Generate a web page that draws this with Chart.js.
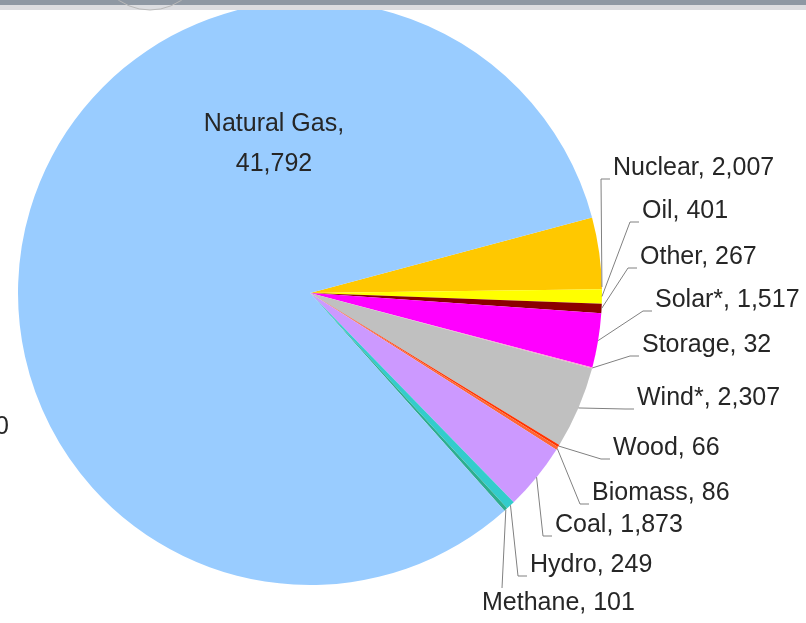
<!DOCTYPE html>
<html>
<head>
<meta charset="utf-8">
<script src="https://cdn.jsdelivr.net/npm/chart.js@4.4.0/dist/chart.umd.min.js"></script>
<style>
  html, body { margin: 0; padding: 0; background: #fff; overflow: hidden; }
  #wrap { position: relative; width: 806px; height: 623px; }
</style>
</head>
<body>
<div id="wrap"><canvas id="fuelPie"></canvas></div>
<script>
// capacity by fuel type, clockwise from Nuclear
var categories = ['Nuclear', 'Oil', 'Other', 'Solar*', 'Storage', 'Wind*', 'Wood', 'Biomass', 'Coal', 'Hydro', 'Methane', 'Natural Gas'];
var capacity = [2007, 401, 267, 1517, 32, 2307, 66, 86, 1873, 249, 101, 41792];
var colors = ['#FFC800', '#FFFF00', '#8B0000', '#FF00FF', '#FF99CC', '#C0C0C0', '#FF3300', '#FF6633', '#CC99FF', '#33CCCC', '#2EAD8E', '#99CCFF'];

// label placement (left edge of text, middle of text)
var labelX = [613, 642, 640, 655, 642, 637, 613, 592, 555, 530, 482, 274];
var labelY = [168, 211, 257, 300, 345, 398, 448, 493, 525, 565, 603, 124];
var leader = ['left', 'left', 'left', 'left', 'left', 'left', 'left', 'left', 'left', 'left', 'top', 'none'];
var anchorFrac = [0.97, 0.5, 0.5, 0.5, 0.5, 0.5, 0.5, 0.5, 0.5, 0.5, 0.5, 0.5];

function fmt(v) {
    return v.toString().replace(/(\d)(?=(\d{3})+(?!\d))/g, '$1,');
}

var labelPlugin = {
    id: 'fuelLabels',
    afterDatasetsDraw: function(chart) {
        var ctx = chart.ctx;
        var arcs = chart.getDatasetMeta(0).data;
        ctx.save();
        ctx.font = '25px "Liberation Sans", Arial, sans-serif';
        ctx.textBaseline = 'middle';
        ctx.fillStyle = '#262626';
        ctx.strokeStyle = '#808080';
        ctx.lineWidth = 1;
        arcs.forEach(function(arc, i) {
            var p = arc.getProps(['x', 'y', 'startAngle', 'endAngle', 'outerRadius'], true);
            var a = p.startAngle + (p.endAngle - p.startAngle) * anchorFrac[i];
            var ax = p.x + Math.cos(a) * p.outerRadius;
            var ay = p.y + Math.sin(a) * p.outerRadius;
            var tx = labelX[i], ty = labelY[i];

            if (leader[i] === 'none') {
                // label sits inside the slice, two lines
                ctx.textAlign = 'center';
                ctx.fillText(categories[i] + ',', tx, ty);
                ctx.fillText(fmt(capacity[i]), tx, ty + 40);
                return;
            }

            ctx.beginPath();
            if (leader[i] === 'left') {
                ctx.moveTo(tx - 3, ty + 11);
                ctx.lineTo(tx - 12, ty + 11);
                ctx.lineTo(ax, ay);
            } else {
                ctx.moveTo(tx + 20, ty - 15);
                ctx.lineTo(ax, ay);
            }
            ctx.stroke();

            ctx.textAlign = 'left';
            ctx.fillText(categories[i] + ', ' + fmt(capacity[i]), tx, ty);
        });

        // tail of a label cut off at the left edge
        ctx.textAlign = 'right';
        ctx.fillText('0', 9, 427);

        // window chrome strip along the top
        ctx.fillStyle = '#8E98A3';
        ctx.fillRect(0, 0, chart.width, 5);
        ctx.fillStyle = '#DCDDE0';
        ctx.fillRect(0, 5, chart.width, 5);
        ctx.beginPath();
        ctx.strokeStyle = '#B8B8B8';
        ctx.arc(150, -45, 55, 0.25 * Math.PI, 0.75 * Math.PI);
        ctx.stroke();
        ctx.restore();
    }
};

new Chart(document.getElementById('fuelPie').getContext('2d'), {
    type: 'pie',
    data: {
        labels: categories,
        datasets: [{
            data: capacity,
            backgroundColor: colors,
            borderWidth: 0
        }]
    },
    options: {
        responsive: true,
        maintainAspectRatio: false,
        animation: false,
        rotation: 75,
        layout: {
            padding: { left: 18, top: 1, right: 204, bottom: 38 }
        },
        plugins: {
            legend: { display: false },
            tooltip: { enabled: false }
        }
    },
    plugins: [labelPlugin]
});
</script>
</body>
</html>
